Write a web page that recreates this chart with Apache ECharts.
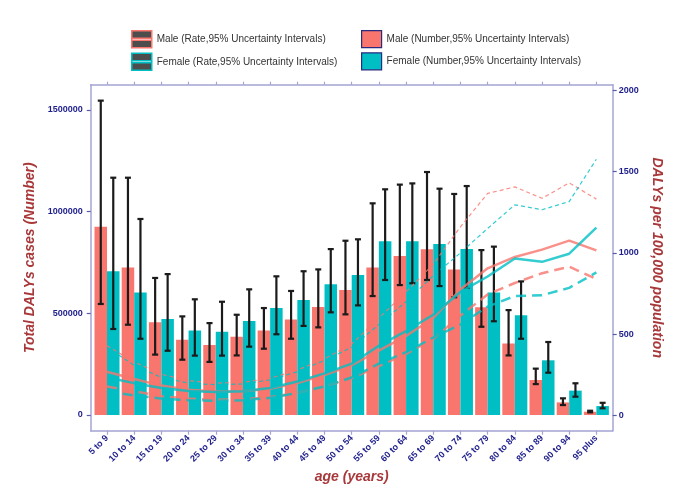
<!DOCTYPE html>
<html>
<head>
  <meta charset="UTF-8">
  <title>DALYs by age</title>
  <style>
    html, body { margin:0; padding:0; background:#fff; }
    #chart { width:686px; height:496px; }
  </style>
</head>
<body>
  <div id="chart"></div>
  <script src="https://cdn.jsdelivr.net/npm/echarts@6/dist/echarts.min.js"></script>
  <script>
    var ages = ['5 to 9','10 to 14','15 to 19','20 to 24','25 to 29','30 to 34','35 to 39','40 to 44','45 to 49',
      '50 to 54','55 to 59','60 to 64','65 to 69','70 to 74','75 to 79','80 to 84','85 to 89','90 to 94','95 plus']

    // numbers (left axis)
    var maleNum      = [926000, 726000, 456000, 370000, 344000, 385000, 416000, 470000, 531000, 615000, 726000, 782000, 815000, 716000, 530000, 352000, 172000, 62000, 16000]
    var maleNumLow   = [546000, 444000, 297000, 272000, 261000, 293000, 326000, 375000, 431000, 495000, 585000, 639000, 664000, 579000, 434000, 293000, 152000, 49000, 13000]
    var maleNumHigh  = [1546000, 1167000, 674000, 485000, 452000, 493000, 526000, 610000, 716000, 857000, 1041000, 1133000, 1195000, 1087000, 811000, 516000, 228000, 82000, 21000]
    var femaleNum     = [707000, 603000, 472000, 416000, 410000, 462000, 526000, 566000, 643000, 689000, 854000, 854000, 841000, 816000, 603000, 490000, 269000, 120000, 44000]
    var femaleNumLow  = [423000, 375000, 316000, 292000, 292000, 336000, 397000, 438000, 505000, 539000, 664000, 648000, 634000, 625000, 461000, 375000, 208000, 90000, 33000]
    var femaleNumHigh = [1167000, 964000, 693000, 569000, 557000, 618000, 682000, 707000, 816000, 864000, 1110000, 1139000, 1113000, 1126000, 828000, 657000, 359000, 156000, 60000]

    // rates per 100,000 (right axis)
    var maleRate   = [270, 225, 185, 160, 148, 150, 165, 200, 250, 310, 400, 490, 600, 775, 905, 975, 1020, 1075, 1015]
    var maleLow    = [180, 150, 120, 105, 98, 100, 115, 140, 180, 230, 305, 380, 470, 615, 745, 815, 875, 915, 840]
    var maleHigh   = [430, 330, 255, 215, 200, 205, 230, 280, 350, 440, 600, 760, 930, 1160, 1365, 1405, 1335, 1430, 1330]
    var femaleRate = [235, 200, 170, 152, 145, 150, 170, 210, 260, 320, 430, 520, 620, 760, 855, 965, 945, 995, 1155]
    var femaleLow  = [150, 125, 105, 95, 92, 95, 110, 140, 180, 235, 320, 390, 480, 560, 670, 735, 740, 785, 880]
    var femaleHigh = [420, 310, 235, 200, 190, 195, 220, 270, 340, 420, 560, 700, 860, 1000, 1150, 1295, 1265, 1315, 1575]

    var leftTicks = [0, 500000, 1000000, 1500000]
    var rightTicks = [0, 500, 1000, 1500, 2000]

    var MALE = '#F8766D', FEMALE = '#00BFC4'
    var AXIS = '#A4A4D4', LABEL = '#1E1E8C', TITLE = '#A8383A'
    var FONT = "'Liberation Sans', Arial, sans-serif"
    var BAR_W = 12.5

    var names = {
      mr: 'Male (Rate,95% Uncertainty Intervals)',
      fr: 'Female (Rate,95% Uncertainty Intervals)',
      mn: 'Male (Number,95% Uncertainty Intervals)',
      fn: 'Female (Number,95% Uncertainty Intervals)'
    }
    var idx = ages.map(function (a, i) { return i })

    function pairs(arr) { return arr.map(function (v, i) { return [i, v] }) }
    function ranges(lo, hi) { return lo.map(function (v, i) { return [i, v, hi[i]] }) }
    function plain(v) { return String(v) }

    function errorBar(shift) {
      return function (params, api) {
        var x = api.value(0)
        var lo = api.coord([x, api.value(1)])
        var hi = api.coord([x, api.value(2)])
        var cx = lo[0] + shift, cap = 3
        var st = { stroke: '#1b1b1b', lineWidth: 2.2 }
        return { type: 'group', children: [
          { type: 'line', shape: { x1: cx, y1: hi[1], x2: cx, y2: lo[1] }, style: st },
          { type: 'line', shape: { x1: cx - cap, y1: hi[1], x2: cx + cap, y2: hi[1] }, style: st },
          { type: 'line', shape: { x1: cx - cap, y1: lo[1], x2: cx + cap, y2: lo[1] }, style: st }
        ]}
      }
    }

    function rateLine(name, data, color, width, dash) {
      return {
        name: name, type: 'line', xAxisIndex: 0, yAxisIndex: 1,
        data: pairs(data), symbol: 'none', z: 5,
        lineStyle: { color: color, width: width, type: dash, opacity: 0.8 },
        itemStyle: { color: color }
      }
    }

    var rateIcon = 'path://M0,0H20V17H0Z M0,7.5V9.5H20V7.5Z'

    var myChart = echarts.init(document.getElementById('chart'))
    var option = {
      animation: false,
      textStyle: { fontFamily: FONT },
      legend: [
        {
          orient: 'vertical', left: 126, top: 25, itemWidth: 20, itemHeight: 17, itemGap: 4,
          selectedMode: false,
          textStyle: { fontSize: 10, color: '#333', fontFamily: FONT },
          data: [
            { name: names.mr, icon: rateIcon, itemStyle: { color: '#4d4d4d', borderColor: MALE, borderWidth: 1.5 } },
            { name: names.fr, icon: rateIcon, itemStyle: { color: '#4d4d4d', borderColor: FEMALE, borderWidth: 1.5 } }
          ]
        },
        {
          orient: 'vertical', left: 356, top: 25, itemWidth: 20, itemHeight: 17, itemGap: 4,
          selectedMode: false,
          textStyle: { fontSize: 10, color: '#333', fontFamily: FONT },
          data: [
            { name: names.mn, icon: 'rect', itemStyle: { color: MALE, borderColor: '#2a2a80', borderWidth: 1.2 } },
            { name: names.fn, icon: 'rect', itemStyle: { color: FEMALE, borderColor: '#2a2a80', borderWidth: 1.2 } }
          ]
        }
      ],
      grid: { left: 90.7, right: 73.3, top: 84.7, bottom: 65.3, outerBoundsMode: 'none' },
      xAxis: [
        {
          type: 'value', min: -0.6, max: 18.6, position: 'bottom',
          name: 'age (years)', nameLocation: 'middle', nameGap: 37,
          nameTextStyle: { color: TITLE, fontSize: 14, fontWeight: 'bold', fontStyle: 'italic', fontFamily: FONT },
          axisLine: { show: true, onZero: false, lineStyle: { color: AXIS, width: 1.5 } },
          axisTick: { show: true, length: 4, customValues: idx, lineStyle: { color: AXIS, width: 1.2 } },
          axisLabel: {
            customValues: idx, rotate: 45, margin: 6, color: LABEL, fontSize: 9, fontWeight: 'bold',
            formatter: function (v) { return ages[Math.round(v)] }
          },
          splitLine: { show: false }
        },
        {
          type: 'value', min: -0.6, max: 18.6, position: 'top',
          axisLine: { show: true, onZero: false, lineStyle: { color: AXIS, width: 1.5 } },
          axisTick: { show: true, length: 3, customValues: idx, lineStyle: { color: AXIS, width: 1.2 } },
          axisLabel: { show: false },
          splitLine: { show: false }
        }
      ],
      yAxis: [
        {
          type: 'value', min: -77200, max: 1624400, position: 'left',
          name: 'Total DALYs cases (Number)', nameLocation: 'middle', nameGap: 48,
          nameTextStyle: { color: TITLE, fontSize: 14, fontWeight: 'bold', fontStyle: 'italic', fontFamily: FONT },
          axisLine: { show: true, onZero: false, lineStyle: { color: AXIS, width: 1.5 } },
          axisTick: { show: true, length: 4, customValues: leftTicks, lineStyle: { color: '#5a5aa8', width: 1.2 } },
          axisLabel: { customValues: leftTicks, formatter: plain, margin: 8, color: LABEL, fontSize: 9, fontWeight: 'bold' },
          splitLine: { show: false }
        },
        {
          type: 'value', min: -92, max: 2032.7, position: 'right',
          name: 'DALYs per 100,000 population', nameLocation: 'middle', nameGap: 30, nameRotate: -90,
          nameTextStyle: { color: TITLE, fontSize: 14, fontWeight: 'bold', fontStyle: 'italic', fontFamily: FONT },
          axisLine: { show: true, onZero: false, lineStyle: { color: AXIS, width: 1.5 } },
          axisTick: { show: true, length: 4, customValues: rightTicks, lineStyle: { color: '#5a5aa8', width: 1.2 } },
          axisLabel: { customValues: rightTicks, formatter: plain, margin: 6, color: LABEL, fontSize: 9, fontWeight: 'bold' },
          splitLine: { show: false }
        }
      ],
      series: [
        { name: names.mn, type: 'bar', xAxisIndex: 0, yAxisIndex: 0, barWidth: BAR_W, barGap: '0%',
          data: pairs(maleNum), itemStyle: { color: MALE }, z: 2 },
        { name: names.fn, type: 'bar', xAxisIndex: 0, yAxisIndex: 0, barWidth: BAR_W, barGap: '0%',
          data: pairs(femaleNum), itemStyle: { color: FEMALE }, z: 2 },
        { name: 'male number UI', type: 'custom', xAxisIndex: 0, yAxisIndex: 0, z: 3,
          renderItem: errorBar(-BAR_W / 2), encode: { x: 0, y: [1, 2] }, data: ranges(maleNumLow, maleNumHigh) },
        { name: 'female number UI', type: 'custom', xAxisIndex: 0, yAxisIndex: 0, z: 3,
          renderItem: errorBar(BAR_W / 2), encode: { x: 0, y: [1, 2] }, data: ranges(femaleNumLow, femaleNumHigh) },
        rateLine(names.mr, maleRate, MALE, 2.5, 'solid'),
        rateLine('male rate lower', maleLow, MALE, 2.5, [10, 6]),
        rateLine('male rate upper', maleHigh, MALE, 1.2, [4, 3]),
        rateLine(names.fr, femaleRate, FEMALE, 2.5, 'solid'),
        rateLine('female rate lower', femaleLow, FEMALE, 2.5, [10, 6]),
        rateLine('female rate upper', femaleHigh, FEMALE, 1.2, [4, 3])
      ]
    }
    myChart.setOption(option, true)
  </script>
</body>
</html>
